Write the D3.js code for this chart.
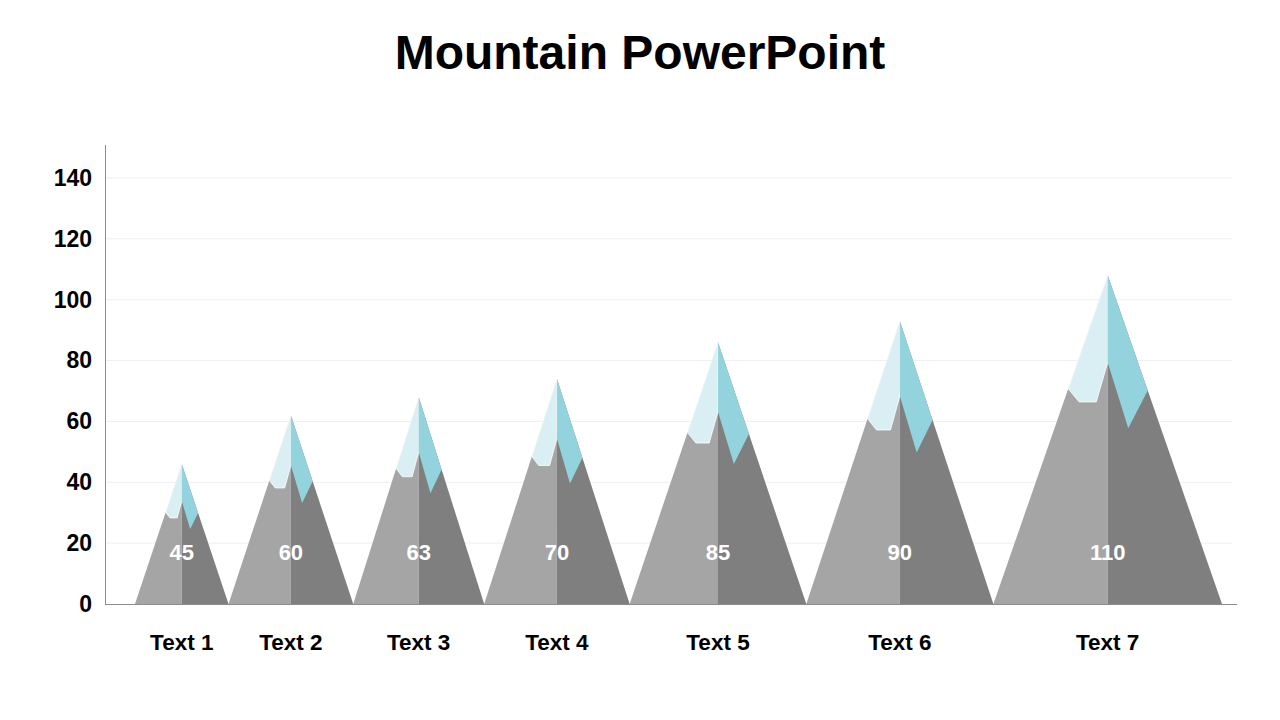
<!DOCTYPE html>
<html>
<head>
<meta charset="utf-8">
<script src="https://cdn.jsdelivr.net/npm/d3@7"></script>
<style>
  body { margin: 0; background: #fff; }
  text { font-family: "Liberation Sans", Arial, sans-serif; font-weight: bold; }
</style>
</head>
<body>
<script>
//Chart data
var categories = ["Text 1", "Text 2", "Text 3", "Text 4", "Text 5", "Text 6", "Text 7"];
var values = [45, 60, 63, 70, 85, 90, 110];
//peak heights as drawn in the picture (a bit off the labels)
var peaks = [46, 62, 68, 74, 86, 93, 108];
var yTicks = [0, 20, 40, 60, 80, 100, 120, 140];

var w = 1280, h = 720;
var plotLeft = 105, plotRight = 1237, plotBase = 604;
var pxPerUnit = 3.043;

var svg = d3.select('body')
  .append('svg')
  .attr('width', w)
  .attr('height', h);

//Title
svg.append('text')
  .attr('x', 640)
  .attr('y', 69)
  .attr('text-anchor', 'middle')
  .attr('font-size', '48px')
  .attr('fill', '#000')
  .text('Mountain PowerPoint');

var y = d3.scaleLinear()
  .domain([0, 151])
  .range([plotBase, plotBase - 151 * pxPerUnit]);

//mountains sit side by side, width follows the value
var x = d3.scaleLinear()
  .domain([0, d3.sum(values)])
  .range([135, 1222]);

//Gridlines
svg.selectAll('line.grid')
  .data(yTicks.slice(1))
  .enter()
  .append('line')
  .attr('class', 'grid')
  .attr('x1', plotLeft)
  .attr('x2', 1232)
  .attr('y1', function (d) { return y(d); })
  .attr('y2', function (d) { return y(d); })
  .attr('stroke', '#efefef')
  .attr('stroke-width', 1);

//Build mountain geometry
var cum = 0;
var mountains = values.map(function (v, i) {
  var x0 = x(cum), x1 = x(cum + v);
  cum += v;
  return { name: categories[i], value: v, x0: x0, x1: x1, cx: (x0 + x1) / 2, peak: y(peaks[i]) };
});

//point at depth f below apex (fraction of height) and offset s of half width
function pt(m, f, s) {
  var hw = (m.x1 - m.x0) / 2;
  return [m.cx + s * hw, m.peak + f * (plotBase - m.peak)];
}

function poly(pts) {
  return pts.map(function (p) { return p[0] + ',' + p[1]; }).join(' ');
}

var mg = svg.append('g').selectAll('g.mountain')
  .data(mountains)
  .enter()
  .append('g')
  .attr('class', 'mountain');

//left rock face
mg.append('polygon')
  .attr('points', function (m) { return poly([[m.x0, plotBase], [m.cx, m.peak], [m.cx, plotBase]]); })
  .attr('fill', '#a5a5a5');

//right rock face
mg.append('polygon')
  .attr('points', function (m) { return poly([[m.cx, plotBase], [m.cx, m.peak], [m.x1, plotBase]]); })
  .attr('fill', '#7f7f7f');

//left snow
mg.append('polygon')
  .attr('points', function (m) {
    return poly([pt(m, 0, 0), pt(m, 0.345, -0.345), pt(m, 0.385, -0.25), pt(m, 0.385, -0.10), pt(m, 0.265, 0)]);
  })
  .attr('fill', '#daeff3')
  .attr('stroke', '#ffffff')
  .attr('stroke-width', 0.8)
  .attr('stroke-linejoin', 'round');

//right snow
mg.append('polygon')
  .attr('points', function (m) {
    return poly([pt(m, 0, 0), pt(m, 0.265, 0), pt(m, 0.465, 0.18), pt(m, 0.35, 0.35)]);
  })
  .attr('fill', '#93d3dd');

//value labels
mg.append('text')
  .attr('x', function (m) { return m.cx; })
  .attr('y', plotBase - 44)
  .attr('text-anchor', 'middle')
  .attr('font-size', '22px')
  .attr('fill', '#ffffff')
  .text(function (m) { return m.value; });

//category labels
mg.append('text')
  .attr('x', function (m) { return m.cx; })
  .attr('y', 650)
  .attr('text-anchor', 'middle')
  .attr('font-size', '22.5px')
  .attr('fill', '#000')
  .text(function (m) { return m.name; });

//Y axis
var yAxis = svg.append('g')
  .attr('transform', 'translate(' + plotLeft + ',0)')
  .call(d3.axisLeft(y).tickValues(yTicks).tickSize(0).tickPadding(13));

yAxis.select('.domain').attr('stroke', '#8c8c8c');
yAxis.selectAll('text')
  .attr('font-size', '23px')
  .attr('font-family', '"Liberation Sans", Arial, sans-serif')
  .attr('font-weight', 'bold')
  .attr('fill', '#000');

//X axis line
svg.append('line')
  .attr('x1', plotLeft)
  .attr('x2', plotRight)
  .attr('y1', plotBase + 0.5)
  .attr('y2', plotBase + 0.5)
  .attr('stroke', '#8c8c8c')
  .attr('stroke-width', 1);
</script>
</body>
</html>
